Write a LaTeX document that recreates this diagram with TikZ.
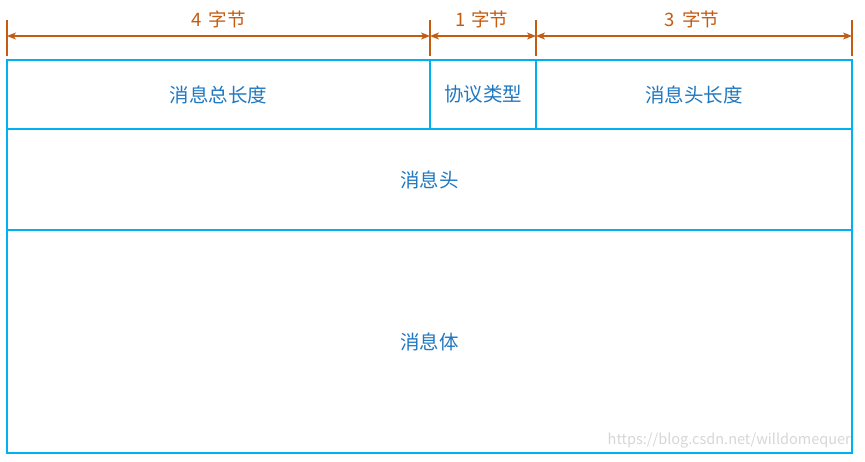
\documentclass[tikz,border=0pt]{standalone}
\usepackage{fontspec}
\setmainfont{Noto Sans CJK SC}
\usetikzlibrary{arrows.meta}
\definecolor{boxblue}{HTML}{00B0F0}
\definecolor{txtblue}{HTML}{1F78C1}
\definecolor{dimorange}{HTML}{C55A11}
\begin{document}
\begin{tikzpicture}[x=1pt,y=-1pt,
  cell/.style={draw=boxblue,line width=2pt,rectangle,inner sep=0pt,outer sep=0pt,
    text=txtblue,font=\fontsize{19.5}{21}\selectfont},
  tickline/.style={draw=dimorange,line width=1.2pt},
  dimline/.style={draw=dimorange,line width=1.2pt,
    {Stealth[length=9pt,width=7pt,inset=2.5pt]}-{Stealth[length=9pt,width=7pt,inset=2.5pt]}},
  dimlabel/.style={text=dimorange,inner sep=0pt,font=\fontsize{18.5}{20}\selectfont},
  wm/.style={text=black!16,inner sep=0pt,anchor=east,font=\fontsize{14.5}{15}\selectfont}]
\useasboundingbox (0,0) rectangle (865,461);
% cells
\node[cell,minimum width=423pt,minimum height=69pt] (len) at (218.5,94.5) {消息总长度};
\node[cell,minimum width=106pt,minimum height=69pt] (type) at (483,94.5) {协议类型};
\node[cell,minimum width=316pt,minimum height=69pt] (hlen) at (694,94.5) {消息头长度};
\node[cell,minimum width=845pt,minimum height=101pt] (head) at (429.5,179.5) {消息头};
\node[cell,minimum width=845pt,minimum height=223pt] (body) at (429.5,341.5) {消息体};
% dimension ticks
\coordinate (t1a) at (7,20);   \coordinate (t1b) at (7,56);
\coordinate (t2a) at (430,20); \coordinate (t2b) at (430,56);
\coordinate (t3a) at (536,20); \coordinate (t3b) at (536,56);
\coordinate (t4a) at (852,20); \coordinate (t4b) at (852,56);
\draw[tickline] (t1a) -- (t1b);
\draw[tickline] (t2a) -- (t2b);
\draw[tickline] (t3a) -- (t3b);
\draw[tickline] (t4a) -- (t4b);
\coordinate (d1) at (7,36);
\coordinate (d2) at (430,36);
\coordinate (d3) at (536,36);
\coordinate (d4) at (852,36);
\draw[dimline] (d1) -- (d2);
\draw[dimline] (d2) -- (d3);
\draw[dimline] (d3) -- (d4);
\node[dimlabel] (l4) at (218.5,19) {4\hspace{3pt} 字节};
\node[dimlabel] (l1) at (482,19) {1\hspace{1pt} 字节};
\node[dimlabel] (l3) at (692,19) {3\hspace{3pt} 字节};
\node[wm] (mark) at (851,441) {https://blog.csdn.net/willdomequer};
\end{tikzpicture}
\end{document}
